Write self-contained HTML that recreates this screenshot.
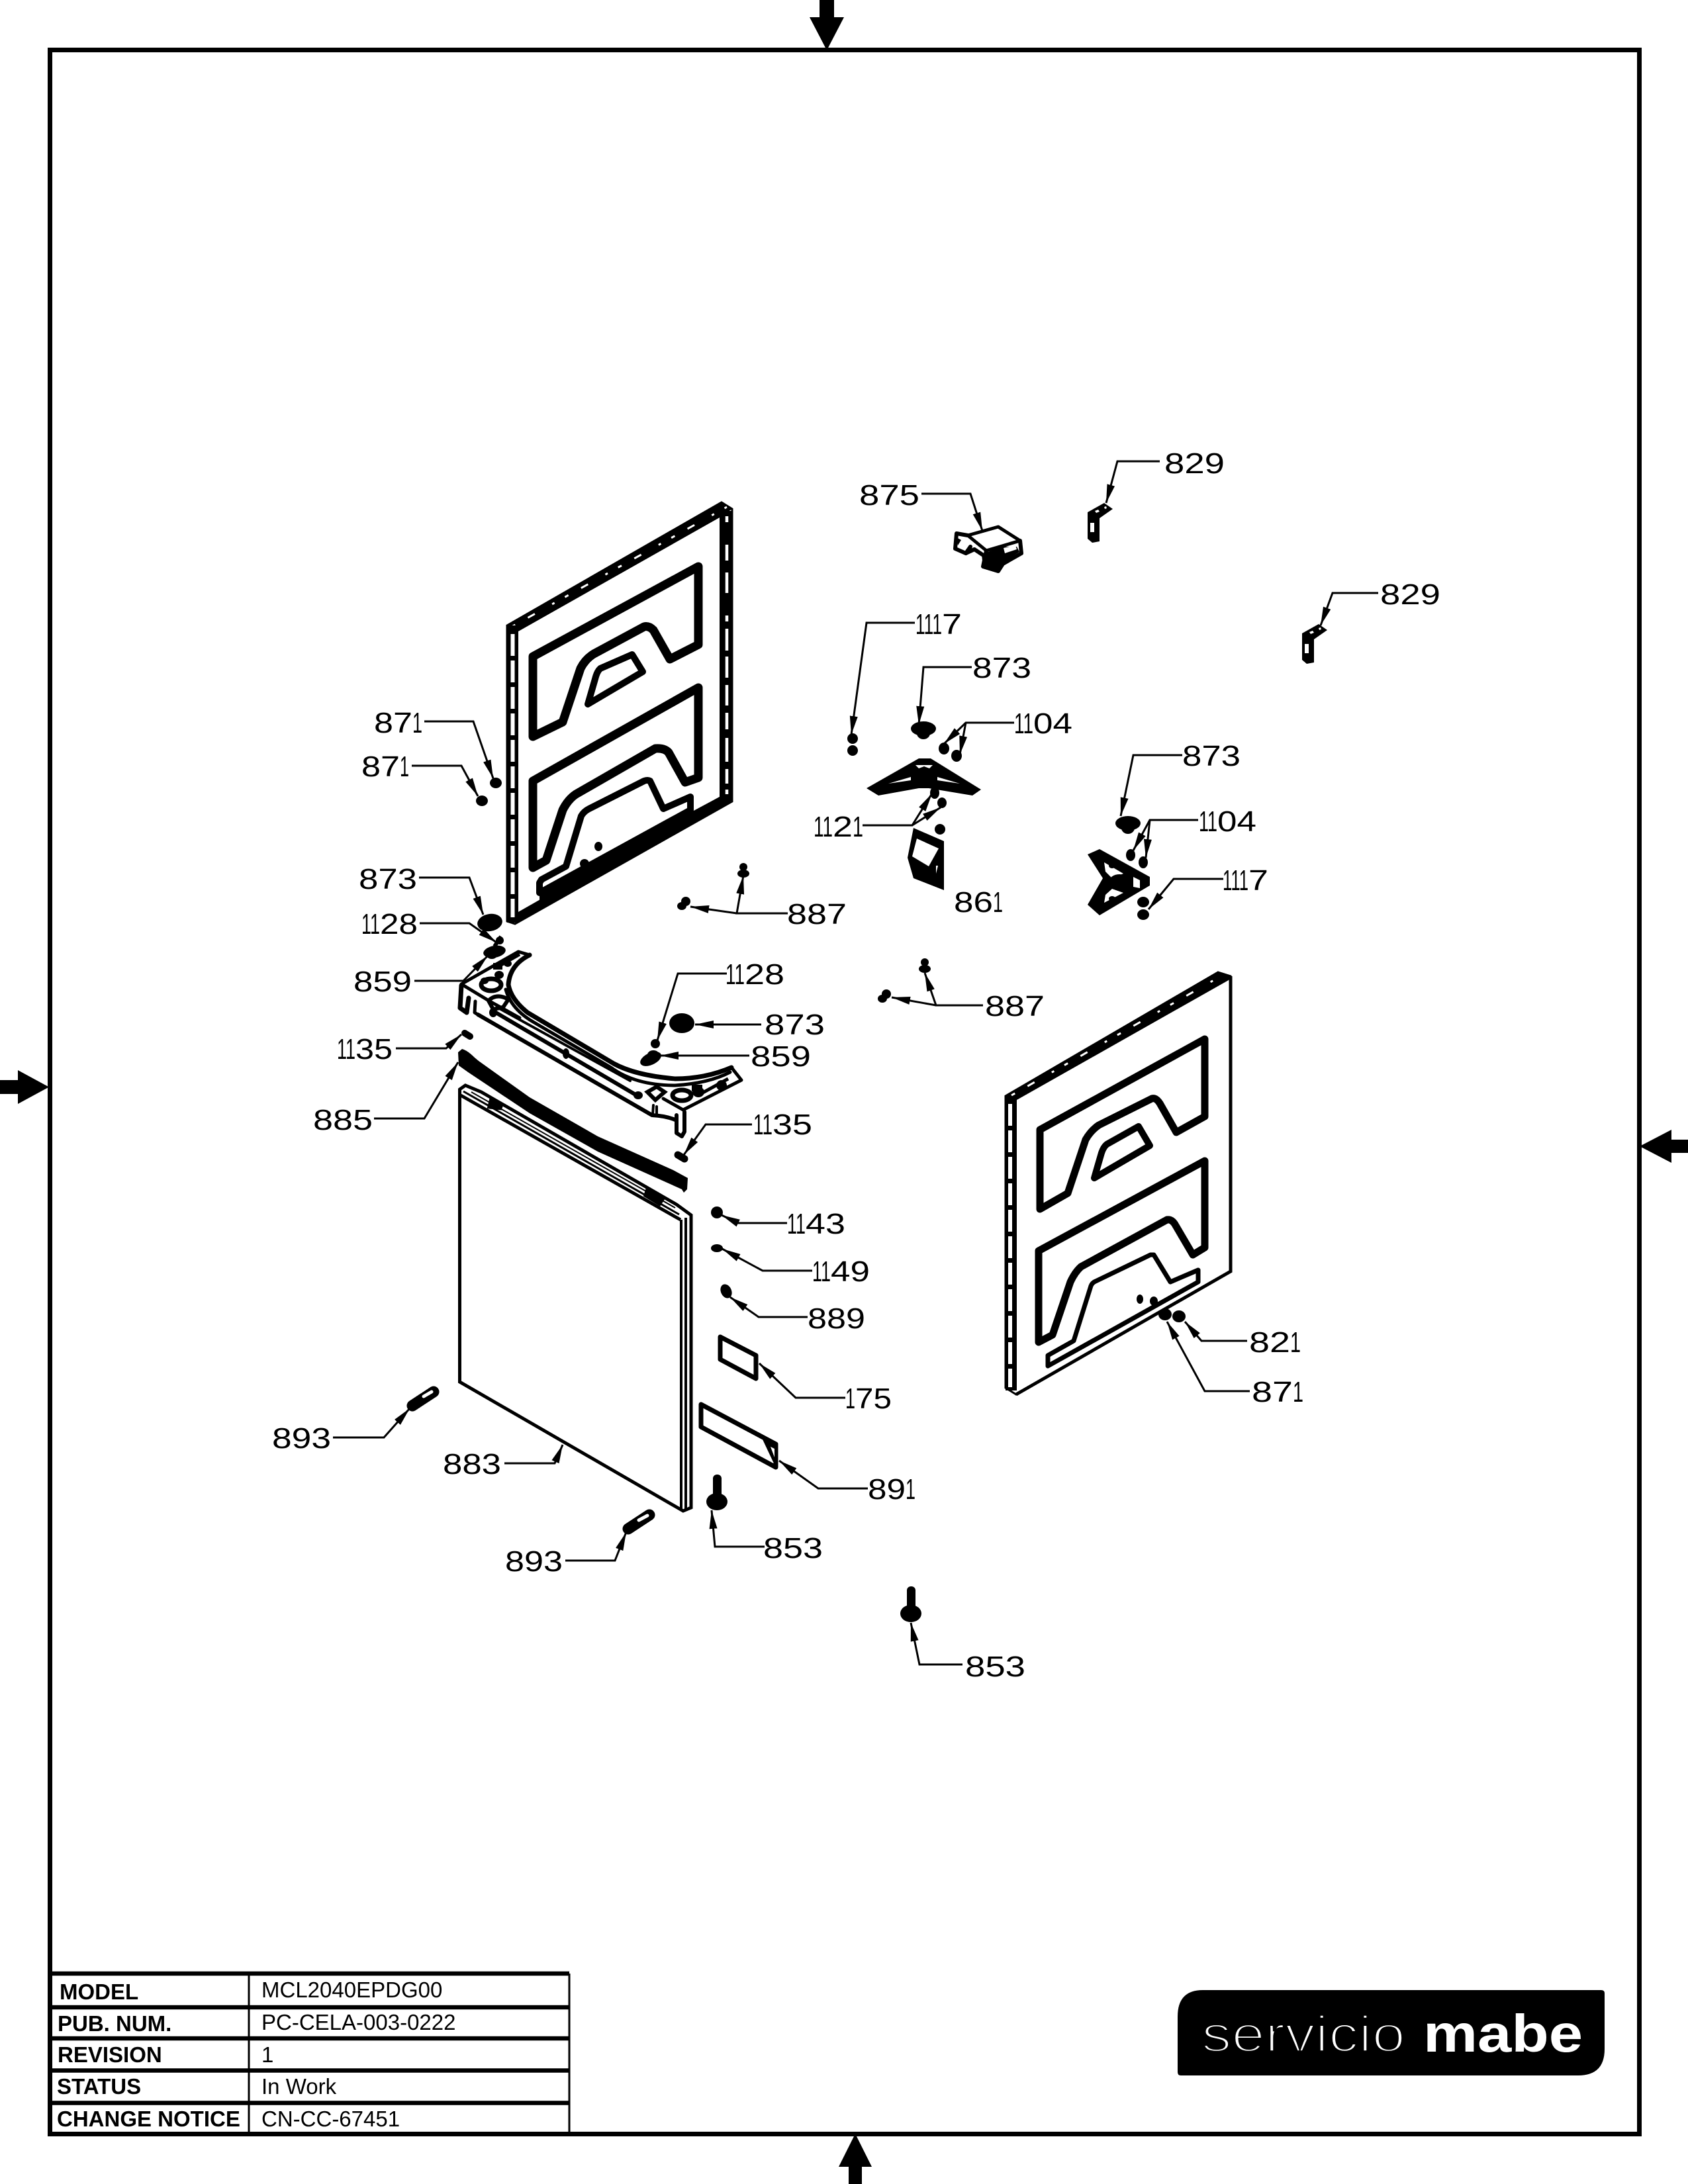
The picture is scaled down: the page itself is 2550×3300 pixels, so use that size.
<!DOCTYPE html>
<html><head><meta charset="utf-8"><style>
html,body{margin:0;padding:0;background:#fff}
svg{display:block}
.n{font:44px "Liberation Sans",sans-serif;fill:#000}
.b{font:bold 33px "Liberation Sans",sans-serif;fill:#000}
.v{font:33px "Liberation Sans",sans-serif;fill:#000}
.l{fill:none;stroke:#000;stroke-width:3;marker-end:url(#a);stroke-linejoin:miter}
.s{fill:none;stroke:#000;stroke-linejoin:round;stroke-linecap:round}
</style></head><body>
<svg xmlns="http://www.w3.org/2000/svg" width="2550" height="3300" viewBox="0 0 2550 3300">
<defs><marker id="a" markerUnits="userSpaceOnUse" markerWidth="30" markerHeight="14" refX="28" refY="7" orient="auto"><path d="M0 1L28 7L0 13Z" fill="#000"/></marker></defs>
<rect width="2550" height="3300" fill="#fff"/>
<!-- frame -->
<rect x="75.500" y="75.500" width="2401" height="3149" fill="none" stroke="#000" stroke-width="7"/>
<path d="M1238 0H1260V26H1275L1249 76L1223 26H1238Z"/>
<path d="M0 1632H27V1617L74 1642.500L27 1668V1653H0Z"/>
<path d="M2550 1722H2525V1707L2477 1732L2525 1757V1742H2550Z"/>
<path d="M1282 3300V3274H1267L1292 3224L1317 3274H1302V3300Z"/>

<!-- left panel -->
<path d="M766 945L1090 759L1106 769V1211L778 1396L766 1392Z" fill="#fff" stroke="#000" stroke-width="3"/>
<path d="M766 945L1090 759L1106 769L1087 782L783 954Z" fill="#000"/>
<path d="M773 947L1098 766" stroke="#fff" stroke-width="3" stroke-dasharray="6 22 12 30 4 18"/>
<rect x="766" y="945" width="17" height="449"/>
<path d="M774.500 958V1386" stroke="#fff" stroke-width="6" stroke-dasharray="33 7"/>
<rect x="1087" y="772" width="19" height="438"/>
<path d="M1098 780V789M1098 823V847M1098 865V896M1098 930V939M1098 950V983M1098 992V1024M1098 1035V1066M1098 1077V1102M1098 1115V1151M1098 1162V1184M1098 1193V1200" stroke="#fff" stroke-width="4.500"/>
<path d="M783 1378L1087 1204L1106 1211L778 1396Z" fill="#000"/>
<path class="s" stroke-width="13" d="M805 992L1055 856V974L1012 996L987 952Q980 945 973 947L897 988Q884 996 877 1010L850 1091L805 1113Z"/>
<path class="s" stroke-width="10" d="M907 1010L955 989L971 1015L888 1064L899 1026Q902 1014 907 1010Z"/>
<path class="s" stroke-width="13" d="M805 1180L1055 1039V1175L1035 1182L1010 1137Q1004 1130 990 1131L870 1200Q858 1208 850 1224L825 1300L805 1311Z"/>
<path class="s" stroke-width="10" d="M818 1329L855 1309L878 1233Q882 1226 890 1222L973 1180Q978 1178 982 1180L1002 1222L1043 1204V1224L815 1349V1334Z"/>
<path d="M815 1352L1046 1226L1087 1204L1106 1211L778 1396L783 1378L815 1360Z" fill="#000"/>
<path d="M893 1312L1040 1230L1046 1226L890 1320Z" fill="#000"/>
<ellipse cx="904" cy="1279" rx="6" ry="7"/><ellipse cx="883" cy="1305" rx="7" ry="7"/>

<!-- right panel -->
<path d="M1519 1656L1840 1469L1859 1475V1921L1535 2107L1519 2097Z" fill="#fff" stroke="#000" stroke-width="3"/>
<path d="M1519 1656L1840 1469L1859 1475L1856 1481L1536 1662Z" fill="#000"/>
<path d="M1528 1655L1846 1474" stroke="#fff" stroke-width="3" stroke-dasharray="6 22 12 30 4 18"/>
<rect x="1519" y="1656" width="17" height="445"/>
<path d="M1526 1668V2096" stroke="#fff" stroke-width="6" stroke-dasharray="33 7"/>
<path d="M1859 1475V1921L1535 2107" fill="none" stroke="#000" stroke-width="5"/>
<path class="s" stroke-width="11" d="M1571 1707L1820 1570V1687L1777 1711L1752 1667Q1746 1658 1740 1660L1660 1700Q1648 1708 1640 1722L1613 1803L1571 1827Z"/>
<path class="s" stroke-width="10" d="M1672 1729L1720 1702L1737 1731L1653 1780L1664 1742Q1667 1733 1672 1729Z"/>
<path class="s" stroke-width="11" d="M1569 1890L1820 1754V1885L1802 1896L1775 1850Q1770 1842 1763 1843L1633 1914Q1624 1922 1617 1937L1590 2017L1569 2028Z"/>
<path class="s" stroke-width="7" d="M1583 2048L1622 2026L1648 1943Q1650 1938 1655 1936L1738 1896L1743 1896L1768 1937L1810 1919V1937L1583 2064Z"/>
<ellipse cx="1722" cy="1963" rx="5" ry="7"/><ellipse cx="1743" cy="1966" rx="6" ry="7"/>
<ellipse cx="1760" cy="1986" rx="10" ry="9"/><ellipse cx="1781" cy="1989" rx="10" ry="9"/>

<!-- fasteners top -->
<ellipse cx="749" cy="1183" rx="9" ry="8"/><ellipse cx="728" cy="1210" rx="9" ry="8"/>
<ellipse cx="740" cy="1394" rx="19" ry="13" transform="rotate(-10 740 1394)"/>
<circle cx="755" cy="1421" r="6"/><path d="M747 1430L757 1415" stroke="#000" stroke-width="6"/>
<ellipse cx="747" cy="1438" rx="17" ry="9" transform="rotate(-10 747 1438)"/><ellipse cx="743" cy="1443" rx="8" ry="6"/>
<ellipse cx="1030" cy="1546" rx="19" ry="15"/><circle cx="990" cy="1577" r="7"/>
<ellipse cx="983" cy="1600" rx="17" ry="9" transform="rotate(-25 983 1600)"/><ellipse cx="987" cy="1594" rx="9" ry="7"/>
<circle cx="1123" cy="1310" r="6"/><ellipse cx="1123" cy="1320" rx="9" ry="6"/>
<circle cx="1036" cy="1362" r="7"/><ellipse cx="1030" cy="1369" rx="7" ry="6"/>
<circle cx="1397" cy="1454" r="6"/><ellipse cx="1397" cy="1464" rx="9" ry="6"/>
<circle cx="1339" cy="1502" r="7"/><ellipse cx="1333" cy="1509" rx="7" ry="6"/>
<path d="M702 1561L710 1566" stroke="#000" stroke-width="10" stroke-linecap="round"/>
<path d="M1024 1745L1034 1751" stroke="#000" stroke-width="11" stroke-linecap="round"/>
<circle cx="1083" cy="1832" r="9"/><ellipse cx="1083" cy="1886" rx="9" ry="6"/>
<ellipse cx="1097" cy="1951" rx="8" ry="11" transform="rotate(-25 1097 1951)"/>

<!-- bracket 859 -->
<g class="s" fill="none" stroke="#000" stroke-linejoin="round" stroke-linecap="round">
<path stroke-width="5" d="M697 1487L783 1438L800 1443"/>
<path stroke-width="7" d="M800 1443Q770 1458 768 1488Q772 1510 797 1530L927 1607Q960 1625 1020 1630Q1065 1630 1105 1613"/>
<path stroke-width="5" d="M764 1495Q772 1525 807 1545L923 1613Q960 1640 1020 1640Q1070 1637 1103 1620"/>
<path stroke-width="5" d="M1105 1613L1120 1632L1032 1677L1002 1660"/>
<path stroke-width="5" d="M697 1487L740 1513L785 1538"/>
<path stroke-width="6" d="M722 1533L985 1685Q1005 1686 1020 1692"/>
<path stroke-width="6" d="M744 1527L960 1654"/>
<path stroke-width="4" d="M753 1523L952 1633"/>
<path stroke-width="7" d="M697 1489L695 1523L705 1530L708 1508"/>
<path stroke-width="5" d="M718 1513L717 1530L722 1533"/>
<path stroke-width="6" d="M1022 1685V1712L1030 1717L1034 1710V1680"/>
<path stroke-width="4" d="M987 1670L986 1685M992 1672V1686"/>
</g>
<ellipse cx="742" cy="1488" rx="15" ry="9" fill="none" stroke="#000" stroke-width="7"/>
<ellipse cx="1030" cy="1655" rx="14" ry="8" fill="none" stroke="#000" stroke-width="7"/>
<path d="M738 1512Q750 1500 768 1510L760 1522L745 1525Z" fill="none" stroke="#000" stroke-width="6"/>
<path d="M978 1650L992 1642L1004 1650L990 1662Z" fill="none" stroke="#000" stroke-width="6"/>
<ellipse cx="767" cy="1456" rx="6" ry="5"/><rect x="745" y="1455" width="14" height="10"/><ellipse cx="754" cy="1473" rx="7" ry="6"/><ellipse cx="732" cy="1482" rx="6" ry="5"/><path d="M750 1462L785 1442" stroke="#000" stroke-width="5"/>
<ellipse cx="1055" cy="1650" rx="9" ry="8"/><ellipse cx="1090" cy="1640" rx="8" ry="8"/><rect x="1045" y="1639" width="16" height="10"/><path d="M1060 1652L1100 1630" stroke="#000" stroke-width="5"/>
<ellipse cx="855" cy="1592" rx="5" ry="8"/><ellipse cx="964" cy="1655" rx="7" ry="6"/><ellipse cx="745" cy="1530" rx="6" ry="7"/>

<!-- gasket 885 -->
<path d="M698 1585Q706 1587 717 1598L723 1603L800 1658L903 1717L1017 1768L1039 1780L1038 1797L1033 1802L1030 1797L1010 1788L903 1740L800 1682L707 1620L693 1610L692 1590Z"/>

<!-- door 883 -->
<path d="M694.500 1646V2088L1032 2283L1044 2278V1836L1022 1820L727 1650L703 1640L694.500 1646Z" fill="#fff" stroke="#000" stroke-width="5"/>
<path d="M696 1655L1028 1843" stroke="#000" stroke-width="5"/>
<path d="M700 1649L1026 1835" stroke="#000" stroke-width="3"/>
<path d="M712 1650L1020 1825" stroke="#000" stroke-width="2"/>
<path d="M1029 1843V2280M1036 1840V2283" stroke="#000" stroke-width="4"/>
<path d="M742 1664L758 1674L740 1672ZM978 1800L1000 1812L996 1818L976 1806Z" stroke="#000" stroke-width="7"/>

<!-- 175, 891 -->
<path class="s" stroke-width="7" d="M1088 2020L1142 2048V2083L1088 2054Z"/>
<path class="s" stroke-width="7" d="M1059 2122L1172 2182V2217L1059 2156Z"/>
<path d="M1152 2175L1172 2182V2215L1168 2209Z"/>
<path d="M1164 2186L1170 2189V2202Z" fill="#fff"/>

<!-- 853 -->
<rect x="1077" y="2228" width="13" height="36" rx="6"/><ellipse cx="1083" cy="2269" rx="16" ry="13"/>
<rect x="1370" y="2397" width="13" height="36" rx="6"/><ellipse cx="1376" cy="2438" rx="16" ry="13"/>

<!-- 893 -->
<path d="M623 2124L655 2103" stroke="#000" stroke-width="17" stroke-linecap="round"/>
<path d="M640 2110L652 2103" stroke="#fff" stroke-width="5" stroke-linecap="round"/>
<path d="M949 2310L981 2289" stroke="#000" stroke-width="17" stroke-linecap="round"/>
<path d="M965 2297L978 2290" stroke="#fff" stroke-width="5" stroke-linecap="round"/>

<!-- right group parts -->
<path class="s" stroke-width="5" fill="#fff" d="M1462 809L1508 796L1541 817L1490 832Z"/>
<path class="s" stroke-width="6" d="M1462 809L1445 806L1443 829L1459 836L1466 826M1459 836L1472 830L1484 838"/>
<path class="s" stroke-width="6" d="M1490 832L1485 856L1508 863L1515 852L1543 836L1541 817"/>
<path d="M1483 838L1512 826L1536 826L1540 834L1512 852L1508 863L1485 856Z"/><path d="M1445 812L1452 816L1447 824Z"/>
<path d="M1516 828L1534 824L1536 830L1518 836Z" fill="#fff"/>
<g id="br"><path d="M1643 774L1668 760L1681 769L1661 783V818L1650 820L1643 814Z"/>
<path d="M1654 772l5-2 2 3-5 2ZM1668 766l3-1 1 3-3 1ZM1647 790h6v14h-6Z" fill="#fff"/></g>
<g transform="translate(324 183)"><path d="M1643 774L1668 760L1681 769L1661 783V818L1650 820L1643 814Z"/>
<path d="M1654 772l5-2 2 3-5 2ZM1668 766l3-1 1 3-3 1ZM1647 790h6v14h-6Z" fill="#fff"/></g>
<ellipse cx="1395" cy="1101" rx="19" ry="11"/><ellipse cx="1395" cy="1108" rx="10" ry="9"/>
<circle cx="1288" cy="1116" r="8"/><circle cx="1288" cy="1134" r="8"/>
<ellipse cx="1426" cy="1131" rx="8" ry="9"/><ellipse cx="1445" cy="1142" rx="8" ry="9"/>
<path d="M1309 1191L1388 1146H1406L1482 1193L1469 1202L1403 1191H1388L1327 1202Z"/>
<path d="M1383 1156L1409 1156L1404 1161L1396 1158L1388 1161ZM1342 1184L1376 1174V1179ZM1416 1174L1450 1184L1416 1179Z" fill="#fff"/>
<ellipse cx="1395" cy="1174" rx="17" ry="12"/>
<ellipse cx="1412" cy="1198" rx="7" ry="9"/><ellipse cx="1423" cy="1213" rx="7" ry="8"/><ellipse cx="1420" cy="1253" rx="8" ry="8"/>
<path d="M1380 1251L1426 1271V1345L1380 1327L1371 1296Z"/>
<path d="M1385 1267L1418 1282L1403 1309L1378 1294Z" fill="#fff"/><path d="M1414 1308V1320L1417 1308Z" fill="#fff"/>
<path d="M1643 1291L1661 1283L1737 1325V1338L1661 1383L1643 1367L1666 1327Z"/>
<path d="M1668 1303L1697 1320L1680 1327L1670 1317ZM1668 1364L1697 1349L1680 1343L1670 1352ZM1712 1325L1722 1330V1342L1712 1340Z" fill="#fff"/>
<ellipse cx="1691" cy="1333" rx="16" ry="12"/><ellipse cx="1680" cy="1308" rx="5" ry="4"/><ellipse cx="1680" cy="1358" rx="5" ry="4"/>
<ellipse cx="1704" cy="1244" rx="19" ry="11"/><ellipse cx="1704" cy="1251" rx="10" ry="9"/>
<ellipse cx="1708" cy="1292" rx="7" ry="9"/><ellipse cx="1727" cy="1303" rx="7" ry="9"/>
<ellipse cx="1727" cy="1363" rx="9" ry="8"/><ellipse cx="1727" cy="1382" rx="9" ry="8"/>

<!-- leaders -->
<polyline class="l" points="1752,697 1688,697 1671,760"/>
<polyline class="l" points="2082,896 2013,896 1995,945"/>
<polyline class="l" points="1392,746 1466,746 1484,802"/>
<polyline class="l" points="1382,941 1309,941 1286,1110"/>
<polyline class="l" points="1468,1008 1395,1008 1388,1095"/>
<polyline class="l" points="1532,1092 1459,1092 1426,1124"/><polyline class="l" points="1459,1092 1450,1140"/>
<polyline class="l" points="1303,1247 1378,1247 1408,1199"/><polyline class="l" points="1378,1247 1421,1220"/>
<polyline class="l" points="1786,1141 1712,1141 1693,1233"/>
<polyline class="l" points="1810,1239 1737,1239 1712,1285"/><polyline class="l" points="1737,1239 1731,1296"/>
<polyline class="l" points="1848,1328 1773,1328 1735,1374"/>
<polyline class="l" points="641,1090 715,1090 745,1176"/>
<polyline class="l" points="622,1157 697,1157 722,1203"/>
<polyline class="l" points="633,1326 709,1326 730,1382"/>
<polyline class="l" points="634,1395 709,1395 750,1424"/>
<polyline class="l" points="626,1482 700,1482 737,1444"/>
<polyline class="l" points="598,1584 674,1584 697,1563"/>
<polyline class="l" points="565,1690 641,1690 692,1605"/>
<polyline class="l" points="1190,1380 1113,1380 1123,1323"/><polyline class="l" points="1113,1380 1043,1370"/>
<polyline class="l" points="1485,1519 1414,1519 1397,1470"/><polyline class="l" points="1414,1519 1347,1507"/>
<polyline class="l" points="1098,1471 1024,1471 993,1572"/>
<polyline class="l" points="1150,1548 1050,1548"/>
<polyline class="l" points="1132,1595 997,1595"/>
<polyline class="l" points="1136,1699 1066,1699 1033,1745"/>
<polyline class="l" points="1189,1848 1115,1848 1090,1836"/>
<polyline class="l" points="1227,1920 1152,1920 1091,1887"/>
<polyline class="l" points="1220,1990 1146,1990 1103,1960"/>
<polyline class="l" points="1277,2112 1202,2112 1147,2060"/>
<polyline class="l" points="1311,2249 1236,2249 1177,2207"/>
<polyline class="l" points="1155,2337 1080,2337 1075,2282"/>
<polyline class="l" points="1454,2515 1389,2515 1376,2452"/>
<polyline class="l" points="1884,2026 1815,2026 1790,1997"/>
<polyline class="l" points="1888,2102 1820,2102 1763,1997"/>
<polyline class="l" points="503,2172 580,2172 619,2128"/>
<polyline class="l" points="762,2211 838,2211 850,2183"/>
<polyline class="l" points="854,2358 929,2358 946,2315"/>

<!-- labels -->
<g class="n">
<text x="1759" y="715" textLength="91" lengthAdjust="spacingAndGlyphs">829</text>
<text x="2085" y="913" textLength="91" lengthAdjust="spacingAndGlyphs">829</text>
<text x="1298" y="763" textLength="91" lengthAdjust="spacingAndGlyphs">875</text>
<text x="1383" y="958" textLength="40" lengthAdjust="spacingAndGlyphs">111</text><text x="1423" y="958" textLength="30" lengthAdjust="spacingAndGlyphs">7</text>
<text x="1469" y="1024" textLength="89" lengthAdjust="spacingAndGlyphs">873</text>
<text x="1532" y="1108" textLength="29" lengthAdjust="spacingAndGlyphs">11</text><text x="1561" y="1108" textLength="59" lengthAdjust="spacingAndGlyphs">04</text>
<text x="1229" y="1264" textLength="29" lengthAdjust="spacingAndGlyphs">11</text><text x="1258" y="1264" textLength="30" lengthAdjust="spacingAndGlyphs">2</text><text x="1288" y="1264" textLength="16" lengthAdjust="spacingAndGlyphs">1</text>
<text x="1441" y="1378" textLength="59" lengthAdjust="spacingAndGlyphs">86</text><text x="1500" y="1378" textLength="15" lengthAdjust="spacingAndGlyphs">1</text>
<text x="1786" y="1157" textLength="88" lengthAdjust="spacingAndGlyphs">873</text>
<text x="1811" y="1256" textLength="28" lengthAdjust="spacingAndGlyphs">11</text><text x="1839" y="1256" textLength="59" lengthAdjust="spacingAndGlyphs">04</text>
<text x="1847" y="1345" textLength="39" lengthAdjust="spacingAndGlyphs">111</text><text x="1886" y="1345" textLength="30" lengthAdjust="spacingAndGlyphs">7</text>
<text x="565" y="1107" textLength="58" lengthAdjust="spacingAndGlyphs">87</text><text x="623" y="1107" textLength="15" lengthAdjust="spacingAndGlyphs">1</text>
<text x="546" y="1173" textLength="58" lengthAdjust="spacingAndGlyphs">87</text><text x="604" y="1173" textLength="14" lengthAdjust="spacingAndGlyphs">1</text>
<text x="542" y="1343" textLength="88" lengthAdjust="spacingAndGlyphs">873</text>
<text x="546" y="1411" textLength="28" lengthAdjust="spacingAndGlyphs">11</text><text x="574" y="1411" textLength="57" lengthAdjust="spacingAndGlyphs">28</text>
<text x="534" y="1498" textLength="88" lengthAdjust="spacingAndGlyphs">859</text>
<text x="509" y="1600" textLength="28" lengthAdjust="spacingAndGlyphs">11</text><text x="537" y="1600" textLength="56" lengthAdjust="spacingAndGlyphs">35</text>
<text x="473" y="1707" textLength="90" lengthAdjust="spacingAndGlyphs">885</text>
<text x="1189" y="1396" textLength="90" lengthAdjust="spacingAndGlyphs">887</text>
<text x="1488" y="1535" textLength="90" lengthAdjust="spacingAndGlyphs">887</text>
<text x="1096" y="1487" textLength="29" lengthAdjust="spacingAndGlyphs">11</text><text x="1125" y="1487" textLength="60" lengthAdjust="spacingAndGlyphs">28</text>
<text x="1155" y="1563" textLength="91" lengthAdjust="spacingAndGlyphs">873</text>
<text x="1134" y="1611" textLength="91" lengthAdjust="spacingAndGlyphs">859</text>
<text x="1138" y="1714" textLength="29" lengthAdjust="spacingAndGlyphs">11</text><text x="1167" y="1714" textLength="60" lengthAdjust="spacingAndGlyphs">35</text>
<text x="1189" y="1864" textLength="28" lengthAdjust="spacingAndGlyphs">11</text><text x="1217" y="1864" textLength="60" lengthAdjust="spacingAndGlyphs">43</text>
<text x="1227" y="1936" textLength="28" lengthAdjust="spacingAndGlyphs">11</text><text x="1255" y="1936" textLength="59" lengthAdjust="spacingAndGlyphs">49</text>
<text x="1220" y="2007" textLength="87" lengthAdjust="spacingAndGlyphs">889</text>
<text x="1277" y="2128" textLength="15" lengthAdjust="spacingAndGlyphs">1</text><text x="1292" y="2128" textLength="55" lengthAdjust="spacingAndGlyphs">75</text>
<text x="1311" y="2265" textLength="57" lengthAdjust="spacingAndGlyphs">89</text><text x="1368" y="2265" textLength="15" lengthAdjust="spacingAndGlyphs">1</text>
<text x="1153" y="2354" textLength="90" lengthAdjust="spacingAndGlyphs">853</text>
<text x="1458" y="2533" textLength="91" lengthAdjust="spacingAndGlyphs">853</text>
<text x="1887" y="2043" textLength="62" lengthAdjust="spacingAndGlyphs">82</text><text x="1949" y="2043" textLength="16" lengthAdjust="spacingAndGlyphs">1</text>
<text x="1891" y="2118" textLength="62" lengthAdjust="spacingAndGlyphs">87</text><text x="1953" y="2118" textLength="16" lengthAdjust="spacingAndGlyphs">1</text>
<text x="411" y="2188" textLength="89" lengthAdjust="spacingAndGlyphs">893</text>
<text x="669" y="2227" textLength="88" lengthAdjust="spacingAndGlyphs">883</text>
<text x="763" y="2374" textLength="87" lengthAdjust="spacingAndGlyphs">893</text>
</g>

<!-- table -->
<path d="M75 2982H860M75 3033H860M75 3080H860M75 3128.500H860M75 3177.500H860" stroke="#000" stroke-width="6.500" fill="none"/>
<path d="M376 2982V3225M860 2982V3225" stroke="#000" stroke-width="3" fill="none"/>
<text class="b" x="90" y="3021">MODEL</text>
<text class="b" x="87" y="3069">PUB. NUM.</text>
<text class="b" x="87" y="3116">REVISION</text>
<text class="b" x="86" y="3164">STATUS</text>
<text class="b" x="86" y="3213">CHANGE NOTICE</text>
<text class="v" x="395" y="3018">MCL2040EPDG00</text>
<text class="v" x="395" y="3067">PC-CELA-003-0222</text>
<text class="v" x="395" y="3116">1</text>
<text class="v" x="395" y="3164">In Work</text>
<text class="v" x="395" y="3213">CN-CC-67451</text>

<!-- logo -->
<path d="M1817 3007H2419Q2424 3007 2424 3012V3096Q2424 3136 2384 3136H1784Q1779 3136 1779 3131V3047Q1779 3007 1817 3007Z"/>
<text x="1815" y="3100" font-family="Liberation Sans, sans-serif" font-size="77" fill="#fff" stroke="#000" stroke-width="3.500" textLength="308" lengthAdjust="spacingAndGlyphs">servicio</text>
<text x="2150" y="3100" font-family="Liberation Sans, sans-serif" font-size="80" font-weight="bold" fill="#fff" textLength="241" lengthAdjust="spacingAndGlyphs">mabe</text>
</svg>
</body></html>
